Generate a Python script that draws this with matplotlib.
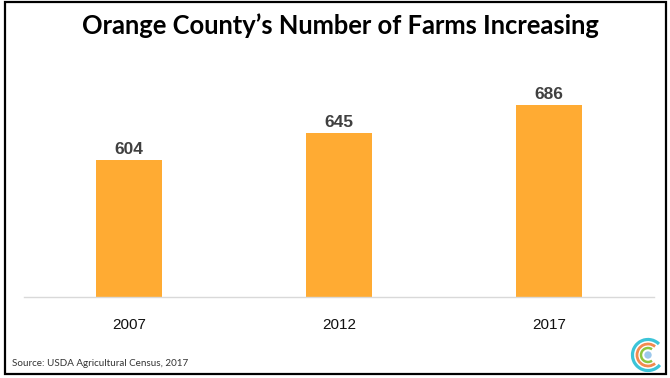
import matplotlib.pyplot as plt
from matplotlib.patches import Arc, Circle, Rectangle

years = ["2007", "2012", "2017"]
farms = [604, 645, 686]

fig = plt.figure(figsize=(6.7, 3.78), dpi=100)

# Rahmen
fig.patches.append(Rectangle((5 / 670, 4 / 378), 661 / 670, 372 / 378, transform=fig.transFigure,
                             fill=False, edgecolor="black", linewidth=1.6))

ax = fig.add_axes([24 / 670, (378 - 297) / 378, 630 / 670, 201 / 378])
x = range(len(years))
bars = ax.bar(x, farms, width=0.31, color="#FFAB33")
ax.set_xlim(-0.5, 2.5)
ax.set_ylim(400, 700)
ax.set_xticks(list(x))
ax.set_xticklabels(years, fontsize=11, family="Liberation Sans", color="#111111")
ax.tick_params(axis="x", length=0, pad=15)
ax.set_yticks([])
for s in ["top", "right", "left"]:
    ax.spines[s].set_visible(False)
ax.spines["bottom"].set_color("#D9D9D9")
ax.spines["bottom"].set_linewidth(1)

for xi, v in zip(x, farms):
    ax.text(xi, v + 5, str(v), ha="center", va="bottom", fontsize=12.5, fontweight="bold",
            family="Liberation Sans", color="#404040")

fig.text(0.508, 0.932, "Orange County\u2019s Number of Farms Increasing", ha="center", va="center",
         fontsize=18.4, fontweight="bold", family="Lato", color="black")
fig.text(12 / 670, 15 / 378, "Source: USDA Agricultural Census, 2017", ha="left", va="center",
         fontsize=7.1, family="Lato", color="#333333")

# Logo
lax = fig.add_axes([630 / 670, 0 / 378, 40 / 670, 46 / 378])
lax.set_xlim(-18, 22)
lax.set_ylim(-23, 23)
lax.set_aspect("equal")
lax.axis("off")
lax.add_patch(Arc((0, 0), 31, 31, theta1=45, theta2=320, color="#3CC4D8", lw=2.3))
lax.add_patch(Arc((0, 0), 22, 22, theta1=50, theta2=310, color="#F28A4F", lw=2))
lax.add_patch(Arc((0, 0), 14, 14, theta1=55, theta2=305, color="#8CC63F", lw=1.8))
lax.add_patch(Circle((0, 0), 3, color="#9CC8EC"))

fig.savefig("out.png", dpi=100)
